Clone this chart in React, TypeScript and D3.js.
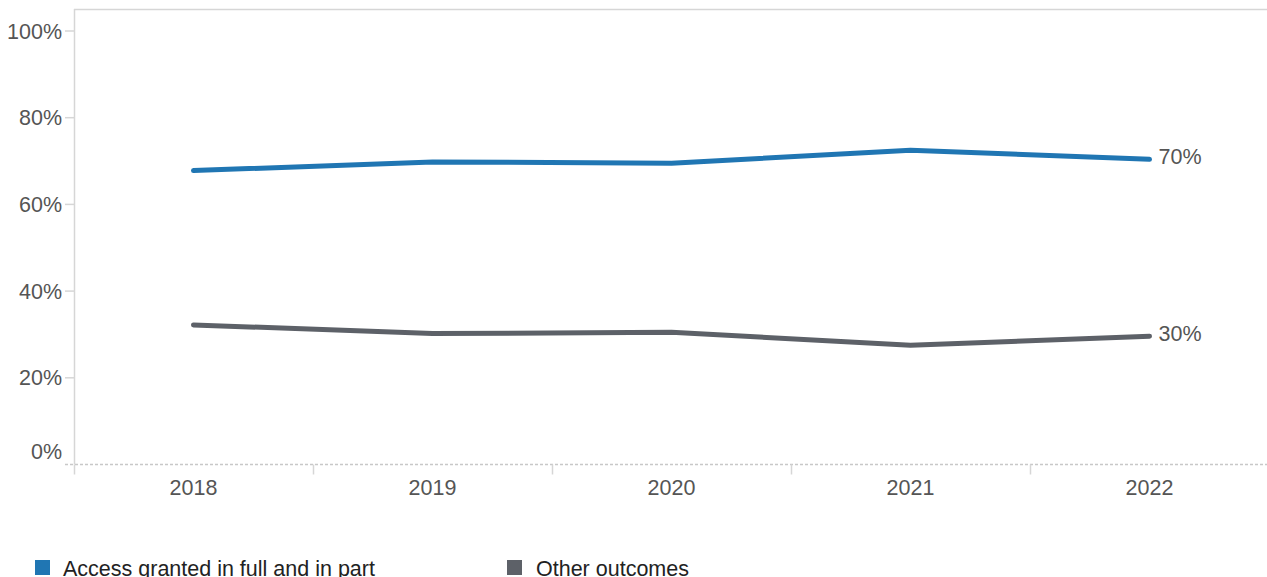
import React from "react";
import * as d3 from "d3";

const years = ["2018", "2019", "2020", "2021", "2022"];
const accessGranted = [67.8, 69.8, 69.5, 72.5, 70.4];
const otherOutcomes = [32.2, 30.2, 30.5, 27.5, 29.6];
const yTicks = [0, 20, 40, 60, 80, 100];
const seriesNames = ["Access granted in full and in part", "Other outcomes"];
const endLabels = ["70%", "30%"];

const W = 1267;
const H = 577;
const left = 74;
const right = 1269;
const top = 9;
const bottom = 464.5;
const BLUE = "#2076b3";
const GRAY = "#5d6168";
const TEXT = "#555555";
const FS = 21.5;
const FONT = "'Liberation Sans', Arial, Helvetica, sans-serif";

export default function App() {
  const x = d3.scaleBand<string>().domain(years).range([left, right]);
  const y = d3.scaleLinear().domain([0, 100]).range([464.5, 31]);
  const line = d3
    .line<number>()
    .x((_, i) => (x(years[i]) as number) + x.bandwidth() / 2)
    .y((d) => y(d));
  const series = [
    { values: accessGranted, color: BLUE },
    { values: otherOutcomes, color: GRAY },
  ];
  const lastX = (x(years[years.length - 1]) as number) + x.bandwidth() / 2;

  return (
    <svg
      width={W}
      height={H}
      style={{ position: "absolute", left: 0, top: 0, display: "block" }}
      fontFamily={FONT}
    >
      {/* frame */}
      <line x1={left} x2={W} y1={top + 0.5} y2={top + 0.5} stroke="#d6d6d6" strokeWidth={1.5} />
      <line x1={left + 0.5} x2={left + 0.5} y1={top} y2={bottom} stroke="#d6d6d6" strokeWidth={1.5} />
      {/* y ticks */}
      {yTicks.map((t) => (
        <g key={t}>
          {t > 0 && (
            <line x1={65} x2={left} y1={y(t)} y2={y(t)} stroke="#d6d6d6" strokeWidth={1.5} />
          )}
          <text
            x={62}
            y={t === 0 ? y(t) - 13 : y(t)}
            dy="0.35em"
            textAnchor="end"
            fontSize={FS}
            fill={TEXT}
          >
            {t}%
          </text>
        </g>
      ))}
      {/* x axis */}
      <line
        x1={65}
        x2={W}
        y1={bottom}
        y2={bottom}
        stroke="#c8c8c8"
        strokeWidth={1.5}
        strokeDasharray="3,2"
      />
      {years.map((yr) => (
        <g key={yr}>
          <line
            x1={(x(yr) as number) + 0.5}
            x2={(x(yr) as number) + 0.5}
            y1={bottom}
            y2={bottom + 10}
            stroke="#d6d6d6"
            strokeWidth={1.5}
          />
          <text
            x={(x(yr) as number) + x.bandwidth() / 2}
            y={487}
            dy="0.35em"
            textAnchor="middle"
            fontSize={FS}
            fill={TEXT}
          >
            {yr}
          </text>
        </g>
      ))}
      {/* lines */}
      {series.map((s, i) => (
        <g key={i}>
          <path
            d={line(s.values) as string}
            fill="none"
            stroke={s.color}
            strokeWidth={5}
            strokeLinecap="round"
            strokeLinejoin="round"
          />
          <text
            x={lastX + 9}
            y={y(s.values[s.values.length - 1]) - 3}
            dy="0.35em"
            fontSize={FS}
            fill={TEXT}
          >
            {endLabels[i]}
          </text>
        </g>
      ))}
      {/* legend */}
      <rect x={35} y={560} width={15} height={15} fill={BLUE} />
      <text x={63} y={576} fontSize={FS} fill="#222">
        {seriesNames[0]}
      </text>
      <rect x={507} y={560} width={15} height={15} fill={GRAY} />
      <text x={536} y={576} fontSize={FS} fill="#222">
        {seriesNames[1]}
      </text>
    </svg>
  );
}
